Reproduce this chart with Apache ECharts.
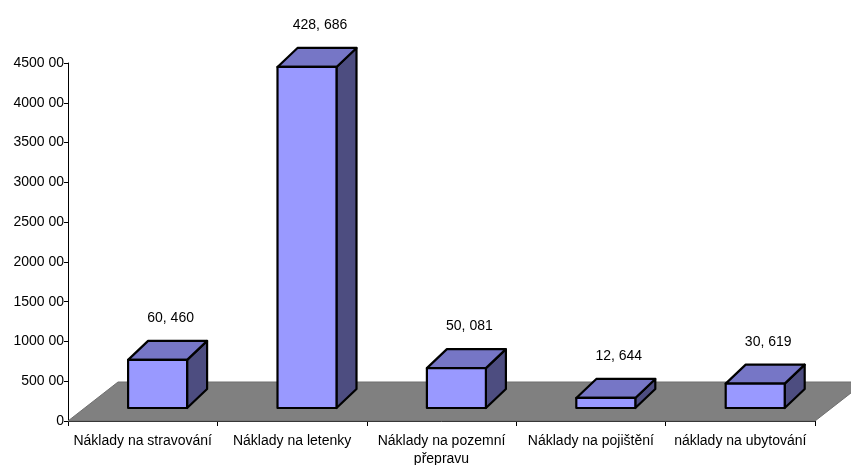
<!DOCTYPE html>
<html>
<head>
<meta charset="utf-8">
<script src="https://cdn.jsdelivr.net/npm/echarts@6/dist/echarts.min.js"></script>
<style>
html,body{margin:0;padding:0;background:#fff;}
#chart{width:851px;height:465px;}
</style>
</head>
<body>
<div id="chart"></div>
<script>
const categories = ['Náklady na stravování', 'Náklady na letenky', 'Náklady na pozemní\npřepravu', 'Náklady na pojištění', 'náklady na ubytování'];
const values = [60460, 428686, 50081, 12644, 30619];
const yTickLabels = ['0', '500 00', '1000 00', '1500 00', '2000 00', '2500 00', '3000 00', '3500 00', '4000 00', '4500 00'];

const FONT = '"Liberation Sans", Arial, sans-serif';
function fmt(v) {
  const s = String(v);
  return s.slice(0, -3) + ', ' + s.slice(-3);
}

const chart = echarts.init(document.getElementById('chart'), null, {renderer: 'canvas'});

// 3D projection styling (pixels)
const FLOOR_DX = 50, FLOOR_DY = -39;
const BAR_SHIFT_X = -14.6, BAR_SHIFT_Y = -13;
const BAR_W = 59, BAR_DX = 20, BAR_DY = -19;

function renderFloor(params, api) {
  const band = api.size([1, 0])[0];
  const a = api.coord([0, 0]);
  const b = api.coord([categories.length - 1, 0]);
  const left = a[0] - band / 2, right = b[0] + band / 2, y0 = a[1];
  return {
    type: 'polygon',
    shape: {points: [[left, y0], [right, y0], [right + FLOOR_DX, y0 + FLOOR_DY], [left + FLOOR_DX, y0 + FLOOR_DY]]},
    style: {fill: '#808080', stroke: '#6f6f6f', lineWidth: 1}
  };
}

function renderBar(params, api) {
  const i = api.value(0);
  const v = api.value(1);
  const base = api.coord([i, 0]);
  const top = api.coord([i, v]);
  const L = base[0] + BAR_SHIFT_X;
  const R = L + BAR_W;
  const yB = base[1] + BAR_SHIFT_Y;
  const yT = top[1] + BAR_SHIFT_Y;
  const line = {stroke: '#000', lineWidth: 2.2, lineJoin: 'round'};
  return {
    type: 'group',
    children: [
      {type: 'polygon', shape: {points: [[R, yT], [R + BAR_DX, yT + BAR_DY], [R + BAR_DX, yB + BAR_DY], [R, yB]]},
        style: Object.assign({fill: '#4d4d80'}, line)},
      {type: 'polygon', shape: {points: [[L, yT], [R, yT], [R + BAR_DX, yT + BAR_DY], [L + BAR_DX, yT + BAR_DY]]},
        style: Object.assign({fill: '#7676c6'}, line)},
      {type: 'rect', shape: {x: L, y: yT, width: BAR_W, height: yB - yT},
        style: Object.assign({fill: '#9999ff'}, line)},
      {type: 'text', x: (L + R) / 2 + BAR_DX / 2 + 3, y: yT + BAR_DY - 23,
        style: {text: fmt(v), fill: '#000', font: '14px ' + FONT, textAlign: 'center', textVerticalAlign: 'middle'}}
    ]
  };
}

chart.setOption({
  animation: false,
  backgroundColor: '#fff',
  grid: {left: 68, right: 36, top: 63, bottom: 44, containLabel: false, outerBoundsMode: 'none'},
  xAxis: {
    type: 'category',
    data: categories,
    boundaryGap: true,
    axisLine: {show: true, lineStyle: {color: '#000', width: 1}},
    axisTick: {show: true, length: 5, lineStyle: {color: '#000'}},
    axisLabel: {color: '#000', fontFamily: FONT, fontSize: 14, margin: 11, lineHeight: 18, interval: 0},
    splitLine: {show: false}
  },
  yAxis: {
    type: 'value',
    min: 0, max: 450000, interval: 50000,
    axisLine: {show: true, lineStyle: {color: '#000', width: 1}},
    axisTick: {show: true, length: 4, lineStyle: {color: '#000'}},
    axisLabel: {color: '#000', fontFamily: FONT, fontSize: 14, margin: 4,
      formatter: function (v) { return yTickLabels[Math.round(v / 50000)]; }},
    splitLine: {show: false}
  },
  series: [
    {type: 'custom', z: 1, renderItem: renderFloor, data: [[0, 0]], clip: false, silent: true},
    {type: 'custom', z: 2, renderItem: renderBar, data: values.map((v, i) => [i, v]), clip: false}
  ]
});
</script>
</body>
</html>
